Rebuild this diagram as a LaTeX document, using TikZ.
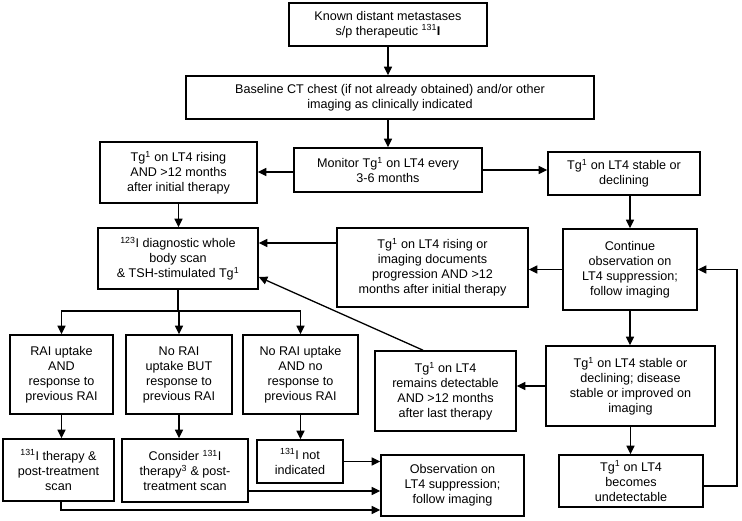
\documentclass[tikz,border=0pt]{standalone}
\usepackage{fontspec}
\setmainfont{Liberation Sans}
\usetikzlibrary{arrows.meta}
\begin{document}
\begin{tikzpicture}[x=1pt,y=-1pt,
  box/.style={draw, line width=1.6pt, align=center, inner sep=0pt, font=\fontsize{12.6}{15}\selectfont},
  arr/.style={line width=1.3pt, -{Triangle[length=8.5pt,width=8pt]}},
  ln/.style={line width=1.3pt}]
\useasboundingbox[fill=white] (0,0) rectangle (742,521);
\newcommand\sone{\textsuperscript{1}}
% nodes
\node[box, minimum width=198pt, minimum height=43pt] (top) at (388,24.5) {Known distant metastases\\s/p therapeutic \textsuperscript{131}\textbf{I}};
\node[box, minimum width=408pt, minimum height=43pt] (base) at (390,97.5) {Baseline CT chest (if not already obtained) and/or other\\imaging as clinically indicated};
\node[box, minimum width=188pt, minimum height=44pt] (monitor) at (388,170) {Monitor Tg\sone{} on LT4 every\\3-6 months};
\node[box, minimum width=157pt, minimum height=61pt] (leftrise) at (178.5,172.5) {Tg\sone{} on LT4 rising\\AND >12 months\\after initial therapy};
\node[box, minimum width=152pt, minimum height=43pt] (stable) at (624,173.5) {Tg\sone{} on LT4 stable or\\declining};
\node[box, minimum width=160pt, minimum height=61pt] (scan) at (178,258.5) {\textsuperscript{123}I diagnostic whole\\body scan\\\& TSH-stimulated Tg\sone};
\node[box, minimum width=191pt, minimum height=79pt] (risimg) at (432.5,267.5) {Tg\sone{} on LT4 rising or\\imaging documents\\progression AND >12\\months after initial therapy};
\node[box, minimum width=134pt, minimum height=81pt] (cont) at (630,269.5) {Continue\\observation on\\LT4 suppression;\\follow imaging};
\node[box, minimum width=103pt, minimum height=79pt] (A) at (61.5,374.5) {RAI uptake\\AND\\response to\\previous RAI};
\node[box, minimum width=106pt, minimum height=79pt] (B) at (179,374.5) {No RAI\\uptake BUT\\response to\\previous RAI};
\node[box, minimum width=115pt, minimum height=79pt] (C) at (300.5,374.5) {No RAI uptake\\AND no\\response to\\previous RAI};
\node[box, minimum width=141pt, minimum height=80pt] (remains) at (445.5,391) {Tg\sone{} on LT4\\remains detectable\\AND >12 months\\after last therapy};
\node[box, minimum width=169pt, minimum height=80pt] (disease) at (630.5,386) {Tg\sone{} on LT4 stable or\\declining; disease\\stable or improved on\\imaging};
\node[box, minimum width=111pt, minimum height=62pt] (A2) at (58.5,470) {\textsuperscript{131}I therapy \&\\post-treatment\\scan};
\node[box, minimum width=126pt, minimum height=63pt] (B2) at (185,470.5) {Consider \textsuperscript{131}I\\therapy\textsuperscript{3} \& post-\\treatment scan};
\node[box, minimum width=86pt, minimum height=43pt] (C2) at (300,461.5) {\textsuperscript{131}I not\\indicated};
\node[box, minimum width=143pt, minimum height=61pt] (obs) at (452.5,485.5) {Observation on\\LT4 suppression;\\follow imaging};
\node[box, minimum width=144pt, minimum height=52pt] (undet) at (631,481) {Tg\sone{} on LT4\\becomes\\undetectable};
\coordinate (split) at (178,311);
\coordinate (loopc) at (737,486);
% connectors
\draw[arr] (top.south) -- (base.north -| top.south);
\draw[arr] (base.south -| monitor.north) -- (monitor.north);
\draw[arr] ([yshift=-2pt]monitor.west) -- ([yshift=-2pt]monitor.west -| leftrise.east);
\draw[arr] (monitor.east) -- (monitor.east -| stable.west);
\draw[arr] (leftrise.south) -- (leftrise.south |- scan.north);
\draw[arr] (stable.south -| cont.north) -- (cont.north);
\draw[arr] (cont.west) -- (cont.west -| risimg.east);
\draw[arr] ([yshift=15.5pt]scan.east -| risimg.west) -- ([yshift=15.5pt]scan.east);
\draw[arr] ([xshift=-22.5pt]remains.north) -- ([yshift=-18.5pt]scan.east);
\draw[ln] (scan.south) -- (split);
\draw[arr] (split) -| (A.north);
\draw[arr] (split) -- (split -| B.north) -- (B.north);
\draw[arr] (split) -| (C.north);
\draw[arr] (A.south) -- (A.south |- A2.north);
\draw[arr] (B.south) -- (B.south |- B2.north);
\draw[arr] (C.south) -- (C.south |- C2.north);
\draw[arr] (C2.east) -- (C2.east -| obs.west);
\draw[arr] ([yshift=-20.5pt]B2.east) -- ([yshift=-20.5pt]B2.east -| obs.west);
\draw[arr] ([xshift=2.5pt]A2.south) |- ([yshift=-24.5pt]obs.west);
\draw[arr] (cont.south) -- (cont.south |- disease.north);
\draw[arr] (disease.west) -- (disease.west -| remains.east);
\draw[arr] (disease.south) -- (disease.south |- undet.north);
\draw[arr] ([yshift=-5pt]undet.east) -- (loopc) |- (cont.east);
\end{tikzpicture}
\end{document}
